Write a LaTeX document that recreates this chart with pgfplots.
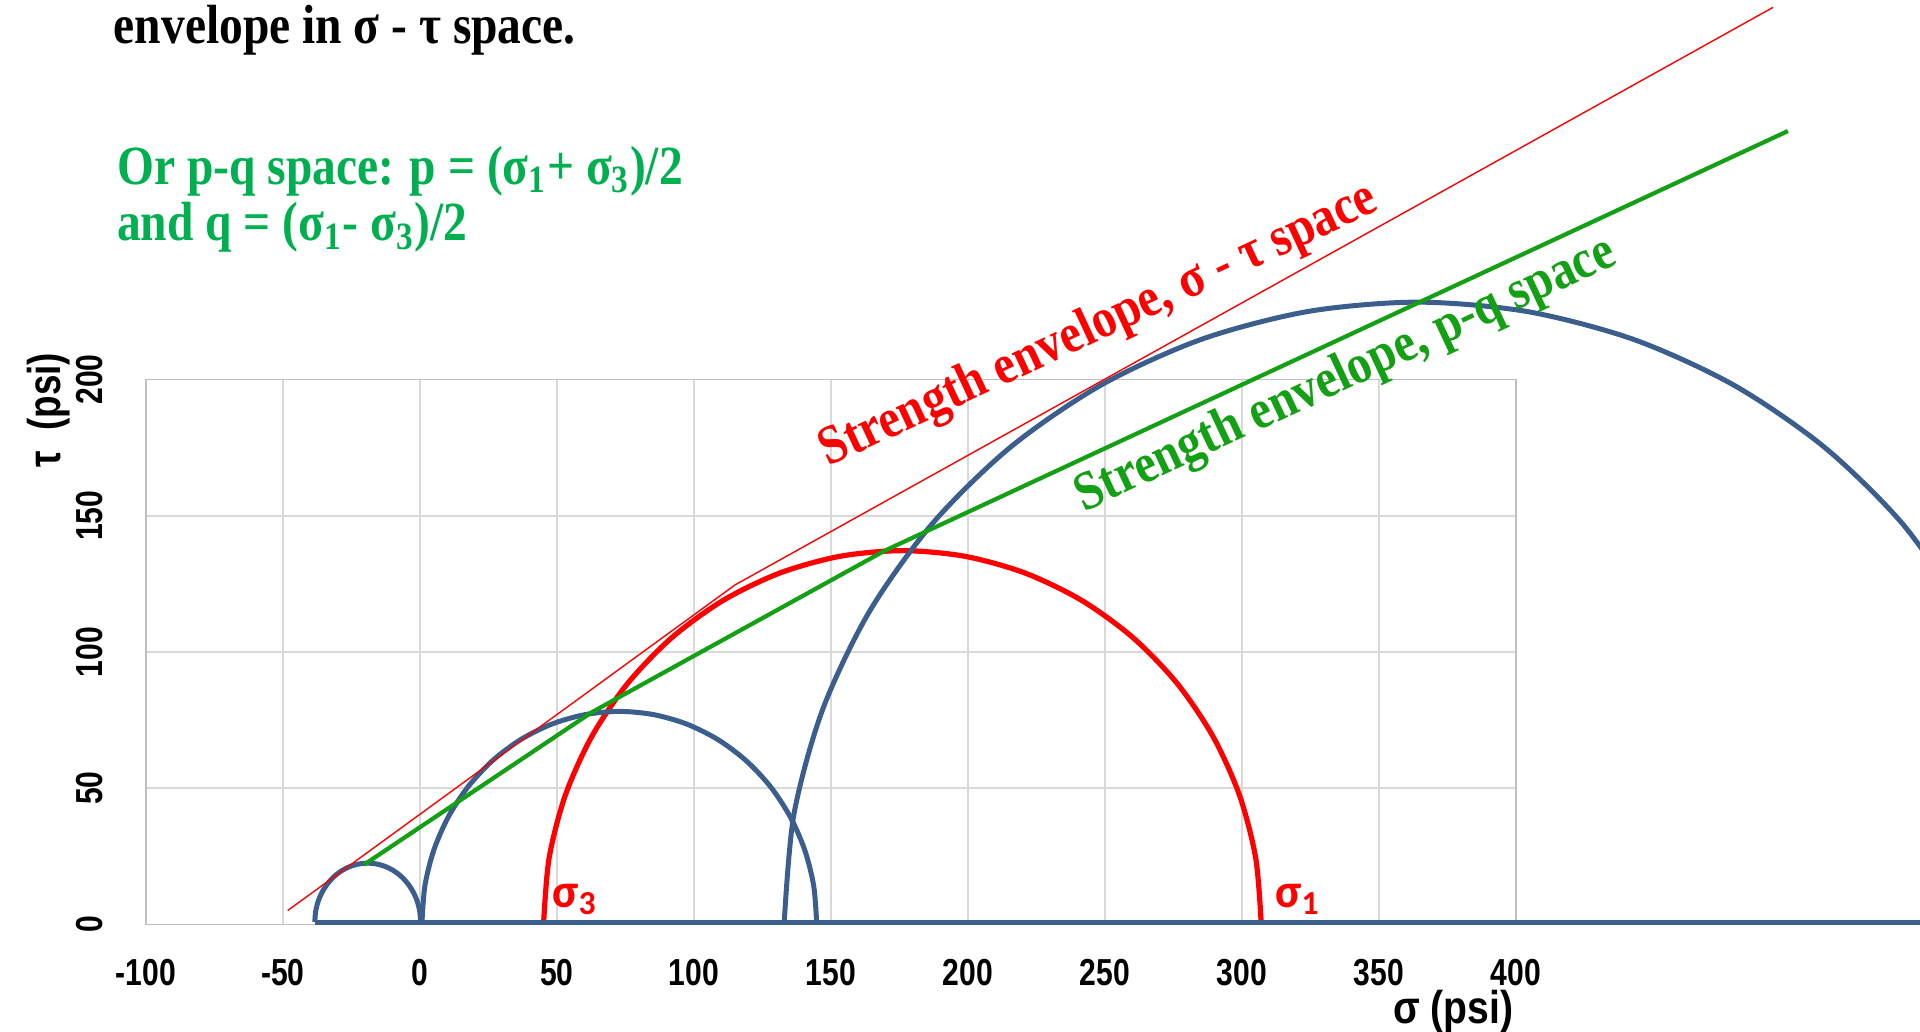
\documentclass[border=0pt]{standalone}
\usepackage{pgfplots}
\pgfplotsset{compat=1.18}
\usepackage{fontspec}
\setmainfont{Liberation Serif}
\newfontfamily\arialf{Liberation Sans}
\newfontfamily\calf{Carlito}
\definecolor{cblue}{RGB}{59,94,140}
\definecolor{cgreen}{RGB}{20,160,20}
\definecolor{tgreen}{RGB}{0,176,80}
\definecolor{gridgray}{RGB}{217,217,217}
\definecolor{axgray}{RGB}{191,191,191}
\newcommand\tk[1]{\scalebox{0.8}[1]{#1}}
\newcommand\sx[1]{\scalebox{0.86}[1]{#1}}
\newcommand\sr[1]{\scalebox{0.875}[1]{#1}}
\newcommand\tickfont{\arialf\bfseries\fontsize{9.4bp}{10bp}\selectfont}
\newcommand\labfont{\arialf\bfseries\fontsize{11.5bp}{13bp}\selectfont}
\newcommand\serifbig{\bfseries\fontsize{13.8bp}{16bp}\selectfont}
\newcommand\sigfont{\calf\bfseries\fontsize{12bp}{14bp}\selectfont}
\begin{document}
\begin{tikzpicture}
\begin{axis}[
  x=0.6851bp, y=0.6811bp,
  xmin=-100, xmax=400, ymin=0, ymax=200,
  clip=false,
  axis line style={draw=axgray, line width=0.45bp},
  grid=major, grid style={draw=gridgray, line width=0.45bp},
  xtick={-100,-50,...,400}, ytick={0,50,...,200},
  major tick length=0pt,
  xticklabels={\tk{-100},\tk{-50},\tk{0},\tk{50},\tk{100},\tk{150},\tk{200},\tk{250},\tk{300},\tk{350},\tk{400}},
  yticklabels={\tk{0},\tk{50},\tk{100},\tk{150},\tk{200}},
  xticklabel style={font=\tickfont, inner sep=0pt, anchor=north},
  yticklabel style={font=\tickfont, inner sep=0pt, rotate=90, anchor=south},
  xticklabel shift=8.4bp, yticklabel shift=10.5bp,
]
% red Mohr circle
\addplot[red, line width=0.6bp] coordinates {(45.2,0.2) (307,0.2)};
\addplot[red, line width=1.3bp, smooth] coordinates {(45.2,0.7) (47.19,24.4) (53.09,47.38) (62.74,68.95) (75.83,88.44) (91.96,105.26) (110.65,118.91) (131.33,128.97) (153.38,135.13) (176.1,137.2) (198.82,135.13) (220.87,128.97) (241.55,118.91) (260.24,105.26) (276.37,88.44) (289.46,68.95) (299.11,47.38) (305.01,24.4) (307.0,0.7)};
% blue circles
\addplot[cblue, line width=1.25bp, smooth] coordinates {(0.3,0.9) (0.0,4.65) (-0.86,8.29) (-2.29,11.7) (-4.22,14.78) (-6.59,17.45) (-9.35,19.61) (-12.4,21.2) (-15.65,22.17) (-19,22.5) (-22.35,22.17) (-25.6,21.2) (-28.65,19.61) (-31.41,17.45) (-33.78,14.78) (-35.71,11.7) (-37.14,8.29) (-38.01,4.65) (-38.3,0.9)};
\addplot[cblue, line width=1.25bp, smooth] coordinates {(0.8,0.9) (1.89,14.32) (5.14,27.34) (10.45,39.55) (17.65,50.59) (26.52,60.11) (36.8,67.84) (48.18,73.54) (60.3,77.02) (72.8,78.2) (85.3,77.02) (97.42,73.54) (108.8,67.84) (119.08,60.11) (127.95,50.59) (135.15,39.55) (140.46,27.34) (143.71,14.32) (144.8,0.9)};
\addplot[cblue, line width=1.25bp, smooth] coordinates {(133,0.9) (136.51,40.39) (146.93,78.71) (163.95,114.65) (187.05,147.14) (215.51,175.17) (248.5,197.92) (285.0,214.68) (323.9,224.94) (364,228.4) (404.1,224.94) (443.0,214.68) (479.5,197.92) (512.49,175.17) (540.95,147.14) (564.05,114.65)};
\addplot[cblue, line width=1.25bp] coordinates {(-38.3,0.9) (547.4,0.9)};
% envelopes
\addplot[cgreen, line width=1.05bp] coordinates {(-20.4,21.9) (62.8,77.9) (169.7,137.2) (499.2,291.2)};
\addplot[red, line width=0.35bp] coordinates {(-48.2,5.1) (115,124.6) (493.8,336.6)};
% labels
\node[anchor=base west, inner sep=0pt, rotate=25, text=red] at (axis cs:149,167.8) {\sr{\serifbig Strength envelope, σ - τ space}};
\node[anchor=base west, inner sep=0pt, rotate=25, text=cgreen] at (axis cs:242.3,151.2) {\sr{\serifbig Strength envelope, p-q space}};
\node[anchor=base west, inner sep=0pt, text=red] at (axis cs:48.1,6.4) {\sigfont σ\textsubscript{3}};
\node[anchor=base west, inner sep=0pt, text=red] at (axis cs:311.9,6.4) {\sigfont σ\textsubscript{1}};
\node[anchor=base west, inner sep=0pt] at (axis cs:-111.9,323.4) {\sx{\serifbig envelope in σ - τ space.}};
\node[anchor=base west, inner sep=0pt, text=tgreen] at (axis cs:-110.7,271.7) {\sx{\serifbig Or p-q space: p = (σ\textsubscript{1}+ σ\textsubscript{3})/2}};
\node[anchor=base west, inner sep=0pt, text=tgreen] at (axis cs:-110.7,251.0) {\sx{\serifbig and q = (σ\textsubscript{1}- σ\textsubscript{3})/2}};
\node[anchor=base west, inner sep=0pt, rotate=90] at (axis cs:-131.1,167.5) {\tk{\labfont τ\ \ (psi)}};
\node[anchor=base west, inner sep=0pt] at (axis cs:354.9,-36.3) {\scalebox{0.85}[1]{\labfont σ (psi)}};
\coordinate (BL) at (axis cs:-153.17,-39.46);
\coordinate (TR) at (axis cs:547.4,339.3);
\end{axis}
\pgfresetboundingbox
\path[use as bounding box] (BL) rectangle (TR);
\end{tikzpicture}
\end{document}
